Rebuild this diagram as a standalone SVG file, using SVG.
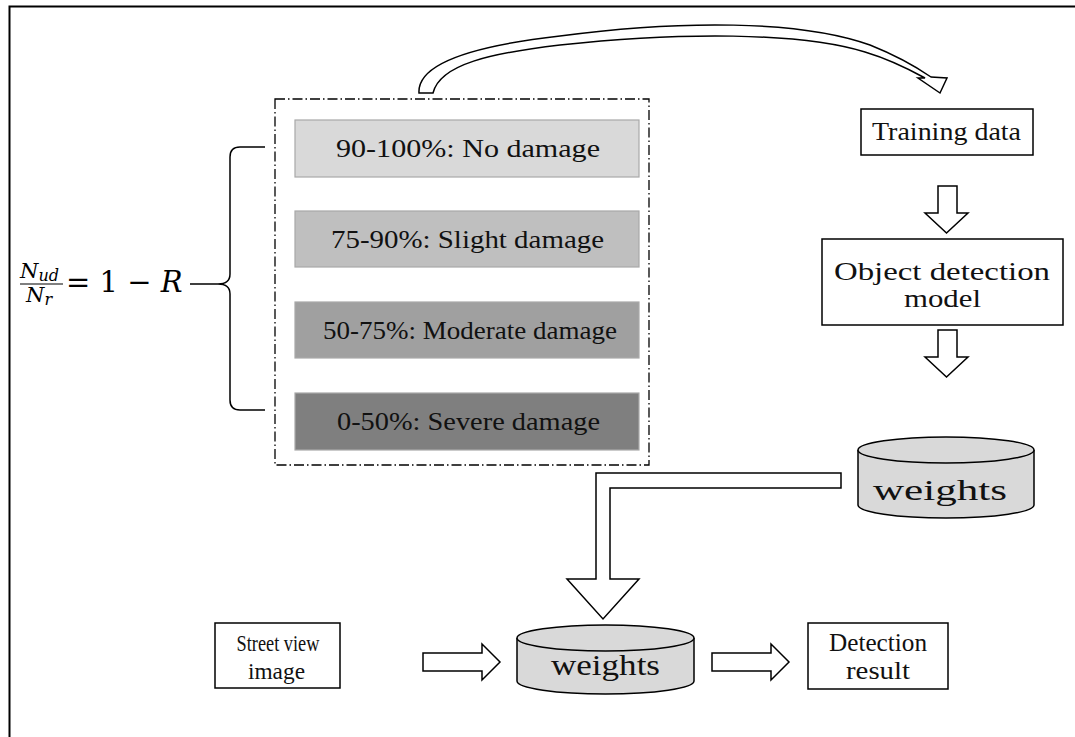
<svg xmlns="http://www.w3.org/2000/svg" width="1075" height="737" viewBox="0 0 1075 737">
<style>
.t{font-family:"Liberation Serif","Times New Roman",serif;fill:#111;text-anchor:middle}
.box{fill:#fff;stroke:#000;stroke-width:1.5}
.g{stroke:#a8a8a8;stroke-width:1.2}
.hol{fill:#fff;stroke:#000;stroke-width:1.5;stroke-linejoin:miter}
.cyl{fill:#d9d9d9;stroke:#000;stroke-width:1.5}
.m{font-family:"DejaVu Serif","Liberation Serif",serif;fill:#000}
</style>
<rect width="1075" height="737" fill="#fff"/>
<path d="M9.5,737 V6.5 H1075" fill="none" stroke="#000" stroke-width="2"/>

<g id="formula">
<text class="m" x="20" y="278" font-size="21" font-style="italic">N<tspan font-size="16" dy="3">ud</tspan></text>
<line x1="20" y1="284" x2="63" y2="284" stroke="#000" stroke-width="1.2"/>
<text class="m" x="26" y="302" font-size="21" font-style="italic">N<tspan font-size="16" dy="3">r</tspan></text>
<text class="m" x="66" y="292" font-size="29">= 1 − <tspan font-style="italic">R</tspan></text>
<path d="M190,284 H218 Q230,284 230,274 V157 Q230,147 240,147 H265 M218,284 Q230,284 230,294 V400 Q230,410 240,410 H265" fill="none" stroke="#000" stroke-width="1.5"/>
</g>

<g id="damage-levels">
<rect x="275" y="99" width="374" height="366" fill="none" stroke="#000" stroke-width="1.3" stroke-dasharray="10,3,1.5,3"/>
<g id="no-damage"><rect class="g" x="295" y="120" width="344" height="57" fill="#d9d9d9"/><text class="t" x="468" y="157" font-size="26" textLength="264" lengthAdjust="spacingAndGlyphs">90-100%: No damage</text></g>
<g id="slight-damage"><rect class="g" x="295" y="211" width="344" height="56" fill="#bfbfbf"/><text class="t" x="467.5" y="248" font-size="26" textLength="273" lengthAdjust="spacingAndGlyphs">75-90%: Slight damage</text></g>
<g id="moderate-damage"><rect class="g" x="295" y="302" width="344" height="56" fill="#a0a0a0"/><text class="t" x="470" y="339" font-size="26" textLength="294" lengthAdjust="spacingAndGlyphs">50-75%: Moderate damage</text></g>
<g id="severe-damage"><rect class="g" x="295" y="393" width="344" height="57" fill="#7f7f7f"/><text class="t" x="468.5" y="430" font-size="26" textLength="263" lengthAdjust="spacingAndGlyphs">0-50%: Severe damage</text></g>
</g>

<g id="training-data"><rect class="box" x="861" y="109" width="172" height="46"/><text class="t" x="946.5" y="140" font-size="25" textLength="149" lengthAdjust="spacingAndGlyphs">Training data</text></g>
<g id="object-detection-model"><rect class="box" x="822" y="239" width="241" height="86"/><text class="t" x="942" y="280" font-size="26" textLength="216" lengthAdjust="spacingAndGlyphs">Object detection</text><text class="t" x="942.5" y="307" font-size="26" textLength="77" lengthAdjust="spacingAndGlyphs">model</text></g>
<g id="weights-top"><path class="cyl" d="M858,450 V505 A88,13 0 0 0 1034,505 V450"/><ellipse class="cyl" cx="946" cy="450" rx="88" ry="13"/><text class="t" x="940" y="500" font-size="30" textLength="134" lengthAdjust="spacingAndGlyphs">weights</text></g>
<g id="street-view-image"><rect class="box" x="215" y="623" width="125" height="65"/><text class="t" x="278" y="651" font-size="23" textLength="83" lengthAdjust="spacingAndGlyphs">Street view</text><text class="t" x="276.5" y="679" font-size="23" textLength="57" lengthAdjust="spacingAndGlyphs">image</text></g>
<g id="weights-bottom"><path class="cyl" d="M517,638 V681 A88.5,13 0 0 0 694,681 V638"/><ellipse class="cyl" cx="605.5" cy="638" rx="88.5" ry="13"/><text class="t" x="605.5" y="675" font-size="29" textLength="109" lengthAdjust="spacingAndGlyphs">weights</text></g>
<g id="detection-result"><rect class="box" x="808" y="623" width="140" height="66"/><text class="t" x="878" y="651" font-size="25" textLength="98" lengthAdjust="spacingAndGlyphs">Detection</text><text class="t" x="878" y="679" font-size="25" textLength="64" lengthAdjust="spacingAndGlyphs">result</text></g>

<g id="connectors">
<path class="hol" d="M419,93 C417,62 480,45 560,36 C680,20 800,20 870,45 C895,55 915,66 931,77 L947,78 L940,93 L918,78 L925,78 C905,67 885,58 865,52 C800,32 680,32 560,45 C492,53 440,64 433,93 Z"/>
<path class="hol" d="M938,186 H957 V213 H968 L946.5,233 L925,213 H938 Z"/>
<path class="hol" d="M938,330 H957 V357 H968 L946.5,377 L925,357 H938 Z"/>
<path class="hol" d="M841,473 V488 H610 V579 H639 L603,619 L567,579 H596 V473 Z"/>
<path class="hol" d="M423,653 H482 V644 L500,662 L482,680 V671 H423 Z"/>
<path class="hol" d="M712,653 H771 V644 L789,662 L771,680 V671 H712 Z"/>
</g>
</svg>
